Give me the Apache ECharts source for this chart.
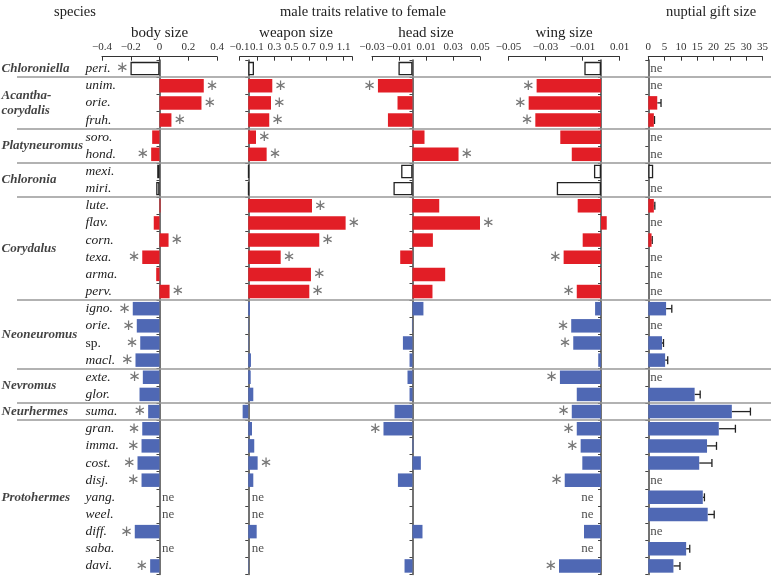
<!DOCTYPE html>
<html><head><meta charset="utf-8">
<script src="https://cdn.jsdelivr.net/npm/echarts@6/dist/echarts.min.js"></script>
<style>html,body{margin:0;padding:0;background:#fff}#c{width:771px;height:576px}</style>
</head><body><div id="c"></div>
<script>
// ---------- DATA ----------
const genera = ['Chloroniella', 'Acantha-\ncorydalis', 'Platyneuromus', 'Chloronia', 'Corydalus', 'Neoneuromus', 'Nevromus', 'Neurhermes', 'Protohermes'];
const genusSizes = [1, 3, 2, 2, 6, 4, 2, 1, 9];
const genusClade = ['open', 'red', 'red', 'open', 'red', 'blue', 'blue', 'blue', 'blue'];
const species = ['peri.', 'unim.', 'orie.', 'fruh.', 'soro.', 'hond.', 'mexi.', 'miri.', 'lute.', 'flav.', 'corn.', 'texa.', 'arma.', 'perv.', 'igno.', 'orie.', 'sp.', 'macl.', 'exte.', 'glor.', 'suma.', 'gran.', 'imma.', 'cost.', 'disj.', 'yang.', 'weel.', 'diff.', 'saba.', 'davi.'];

// 'ne' = not estimated, null = no value
const bodySize = [-0.202, 0.308, 0.292, 0.083, -0.051, -0.058, -0.016, -0.023, 0.007, -0.040, 0.063, -0.120, -0.023, 0.070, -0.186, -0.158, -0.134, -0.167, -0.116, -0.139, -0.079, -0.120, -0.125, -0.153, -0.125, 'ne', 'ne', -0.172, 'ne', -0.065];
const bodySig = [1,1,1,1,0,1,0,0,0,0,1,1,0,1,1,1,1,1,1,0,1,1,1,1,1,0,0,1,0,1];

const weaponSize = [0.066, 0.277, 0.262, 0.242, 0.089, 0.212, 0.005, 0.005, 0.735, 1.123, 0.819, 0.374, 0.723, 0.704, 0.020, 0.005, 0.005, 0.031, 0.028, 0.058, -0.065, 0.043, 0.069, 0.108, 0.058, 'ne', 'ne', 0.097, 'ne', 0.005];
const weaponSig = [0,1,1,1,1,1,0,0,1,1,1,1,1,1,0,0,0,0,0,0,0,0,0,1,0,0,0,0,0,0];

const headSize = [-0.0104, -0.0256, -0.0111, -0.0182, 0.0089, 0.0341, -0.0084, -0.0141, 0.0198, 0.0509, 0.0151, -0.0091, 0.0242, 0.0148, 0.0081, -0.0004, -0.0071, -0.0022, -0.0037, -0.0022, -0.0133, -0.0215, 0.0007, 0.0062, -0.0108, null, null, 0.0074, null, -0.0059];
const headSig = [0,1,0,0,0,1,0,0,0,1,0,0,0,0,0,0,0,0,0,0,0,1,0,0,0,0,0,0,0,0];

const wingSize = [-0.0090, -0.0348, -0.0391, -0.0355, -0.0220, -0.0158, -0.0038, -0.0239, -0.0126, 0.0031, -0.0099, -0.0202, -0.0005, -0.0131, -0.0032, -0.0161, -0.0150, -0.0015, -0.0222, -0.0131, -0.0158, -0.0131, -0.0110, -0.0101, -0.0196, 'ne', 'ne', -0.0092, 'ne', -0.0227];
const wingSig = [0,1,1,1,0,0,0,0,0,0,0,1,0,1,0,1,1,0,1,0,1,1,1,0,1,0,0,0,0,1];

const giftSize = ['ne', 'ne', 2.74, 1.7, 'ne', 'ne', 1.5, 'ne', 1.7, 'ne', 1.0, 'ne', 'ne', 'ne', 5.45, 'ne', 4.2, 5.16, 'ne', 14.2, 25.6, 21.6, 18.0, 15.6, 'ne', 16.7, 18.2, 'ne', 11.6, 7.7];
const giftUpper = [null, null, 3.9, 1.9, null, null, null, null, 2.0, null, 1.2, null, null, null, 7.2, null, 4.66, 5.95, null, 15.9, 31.3, 26.7, 20.9, 19.5, null, 17.2, 20.2, null, 12.7, 9.7];

const bodyTicks = [-0.4, -0.2, 0, 0.2, 0.4];
const weaponTicks = [-0.1, 0.1, 0.3, 0.5, 0.7, 0.9, 1.1];
const headTicks = [-0.03, -0.01, 0.01, 0.03, 0.05];
const wingTicks = [-0.05, -0.03, -0.01, 0.01];
const giftTicks = [0, 5, 10, 15, 20, 25, 30, 35];

// ---------- BUILD ----------
const FONT = 'Liberation Serif';
const RED = '#e21e26', BLUE = '#4f68b4';
const rowClade = [];
genusSizes.forEach((n, g) => { for (let k = 0; k < n; k++) rowClade.push(genusClade[g]); });
const categories = species.map((s, i) => i + ':' + s);

function styleFor(i) {
  const c = rowClade[i];
  if (c === 'open') return { color: '#fff', borderColor: '#222', borderWidth: 1.3 };
  return { color: c === 'red' ? RED : BLUE };
}
const GT = 60, GB = 1.5;
const panels = [
  { name: 'body size', vals: bodySize, sig: bodySig, ticks: bodyTicks, tickVals: bodyTicks, min: -0.4, max: 0.4, left: 102, right: 771 - 217, nePos: 'right', neDist: 2 },
  { name: 'weapon size', vals: weaponSize, sig: weaponSig, ticks: weaponTicks, tickVals: weaponTicks.concat([1.2]), min: -0.1, max: 1.2, left: 239.6, right: 771 - 352.3, nePos: 'right', neDist: 3 },
  { name: 'head size', vals: headSize, sig: headSig, ticks: headTicks, tickVals: headTicks, min: -0.03, max: 0.05, left: 372, right: 771 - 480, nePos: 'right', neDist: 2 },
  { name: 'wing size', vals: wingSize, sig: wingSig, ticks: wingTicks, tickVals: wingTicks, min: -0.05, max: 0.01, left: 508.5, right: 771 - 619.5, nePos: 'left', neDist: 7 },
  { name: '', vals: giftSize, sig: giftSize.map(() => 0), ticks: giftTicks, tickVals: giftTicks, min: 0, max: 35, left: 648.3, right: 771 - 768.3, nePos: 'right', neDist: 1.5 }
];
const fmt = v => (v < 0 ? '\u2212' + String(Math.abs(v)) : String(v));

const grid = [], xAxis = [], yAxis = [], series = [];
panels.forEach((p, k) => {
  grid.push({ left: p.left, right: p.right, top: GT, bottom: GB });
  xAxis.push({
    gridIndex: k, type: 'value', position: 'top', offset: 3.3, min: p.min, max: p.max,
    axisLine: { show: true, onZero: false, lineStyle: { color: '#333', width: 1 } },
    axisTick: { show: true, inside: true, length: 4, customValues: p.tickVals, lineStyle: { color: '#333', width: 1 } },
    axisLabel: { customValues: p.ticks, formatter: fmt, fontSize: 11, fontFamily: FONT, color: '#333', margin: 4, hideOverlap: false },
    splitLine: { show: false },
    name: p.name, nameLocation: 'middle', nameGap: 16, nameMoveOverlap: false,
    nameTextStyle: { fontSize: 15, fontFamily: FONT, color: '#222' }
  });
  yAxis.push({
    gridIndex: k, type: 'category', data: categories, inverse: true,
    axisLine: { show: true, onZero: true, lineStyle: { color: '#444', width: 1.5 } },
    axisTick: { show: true, length: 3, lineStyle: { color: '#444' } },
    axisLabel: { show: false }, splitLine: { show: false }
  });
  series.push({
    type: 'bar', xAxisIndex: k, yAxisIndex: k, barWidth: 13.5, silent: true,
    label: { show: false, formatter: '\u2217', distance: 2, color: '#777', fontSize: 15, fontFamily: 'DejaVu Sans' },
    data: p.vals.map((v, i) => typeof v === 'number'
      ? { value: v, itemStyle: styleFor(i), label: { show: !!p.sig[i], position: v >= 0 ? 'right' : 'left' } }
      : '-')
  });
  const neData = [];
  p.vals.forEach((v, i) => { if (v === 'ne') neData.push([0, i]); });
  series.push({
    type: 'scatter', xAxisIndex: k, yAxisIndex: k, symbolSize: 1, silent: true,
    itemStyle: { color: 'rgba(0,0,0,0)' },
    label: { show: true, position: p.nePos, distance: p.neDist, formatter: 'ne', fontFamily: FONT, fontSize: 13, color: '#222' },
    data: neData
  });
});
// error bars for nuptial gift
const errData = [];
giftUpper.forEach((u, i) => { if (u !== null) errData.push([giftSize[i], i, u]); });
series.push({
  type: 'custom', xAxisIndex: 4, yAxisIndex: 4, silent: true,
  encode: { x: [0, 2], y: 1 },
  renderItem: (params, api) => {
    const a = api.coord([api.value(0), api.value(1)]);
    const b = api.coord([api.value(2), api.value(1)]);
    const st = { stroke: '#222', lineWidth: 1.3 };
    return { type: 'group', children: [
      { type: 'line', shape: { x1: a[0], y1: a[1], x2: b[0], y2: b[1] }, style: st },
      { type: 'line', shape: { x1: b[0], y1: b[1] - 4, x2: b[0], y2: b[1] + 4 }, style: st }
    ] };
  },
  data: errData
});

// genus labels grid (5)
grid.push({ left: 1, right: 0, top: GT, bottom: GB });
xAxis.push({ gridIndex: 5, type: 'value', min: 0, max: 1, show: false });
yAxis.push({ gridIndex: 5, type: 'value', min: 0, max: 30, inverse: true, show: false });
const genusCenters = [], boundaries = [];
let acc = 0;
genusSizes.forEach(n => { genusCenters.push(acc + n / 2); acc += n; boundaries.push(acc); });
boundaries.pop();
series.push({
  type: 'scatter', xAxisIndex: 5, yAxisIndex: 5, symbolSize: 1, silent: true,
  itemStyle: { color: 'rgba(0,0,0,0)' },
  label: { show: true, position: 'right', distance: 0, formatter: p => genera[p.dataIndex],
    fontFamily: FONT, fontStyle: 'italic', fontWeight: 'bold', fontSize: 13, lineHeight: 15, color: '#111' },
  data: genusCenters.map(c => [0, c])
});
// separator grid (6)
grid.push({ left: 17, right: 0, top: GT, bottom: GB });
xAxis.push({ gridIndex: 6, type: 'value', min: 0, max: 1, show: false });
yAxis.push({ gridIndex: 6, type: 'value', min: 0, max: 30, inverse: true, show: false });
series.push({
  type: 'line', xAxisIndex: 6, yAxisIndex: 6, data: [], silent: true,
  markLine: { silent: true, symbol: ['none', 'none'], label: { show: false },
    lineStyle: { color: '#999', width: 1.5, type: 'solid' },
    data: boundaries.map(b => ({ yAxis: b })) }
});
// species label grid (7)
grid.push({ left: 85.5, right: 0, top: GT, bottom: GB });
xAxis.push({ gridIndex: 7, type: 'value', min: 0, max: 1, show: false });
yAxis.push({
  gridIndex: 7, type: 'category', data: categories, inverse: true,
  axisLine: { show: false }, axisTick: { show: false }, splitLine: { show: false },
  axisLabel: { show: true, inside: true, margin: 0, interval: 0,
    formatter: (v, i) => species[i] === 'sp.' ? '{n|sp.}' : species[i],
    fontFamily: FONT, fontStyle: 'italic', fontSize: 13.5, color: '#222',
    rich: { n: { fontFamily: FONT, fontStyle: 'normal', fontSize: 13.5, color: '#222' } } }
});

const ts = { fontFamily: FONT, fontSize: 14.5, fontWeight: 'normal', color: '#222' };
const option = {
  animation: false,
  backgroundColor: '#fff',
  title: [
    { text: 'species', left: 70, top: 0, textAlign: 'center', textStyle: ts },
    { text: 'male traits relative to female', left: 358, top: 0, textAlign: 'center', textStyle: ts },
    { text: 'nuptial gift size', left: 706, top: 0, textAlign: 'center', textStyle: ts }
  ],
  grid, xAxis, yAxis, series
};
echarts.init(document.getElementById('c'), null, { renderer: 'canvas' }).setOption(option);
</script>
</body></html>
